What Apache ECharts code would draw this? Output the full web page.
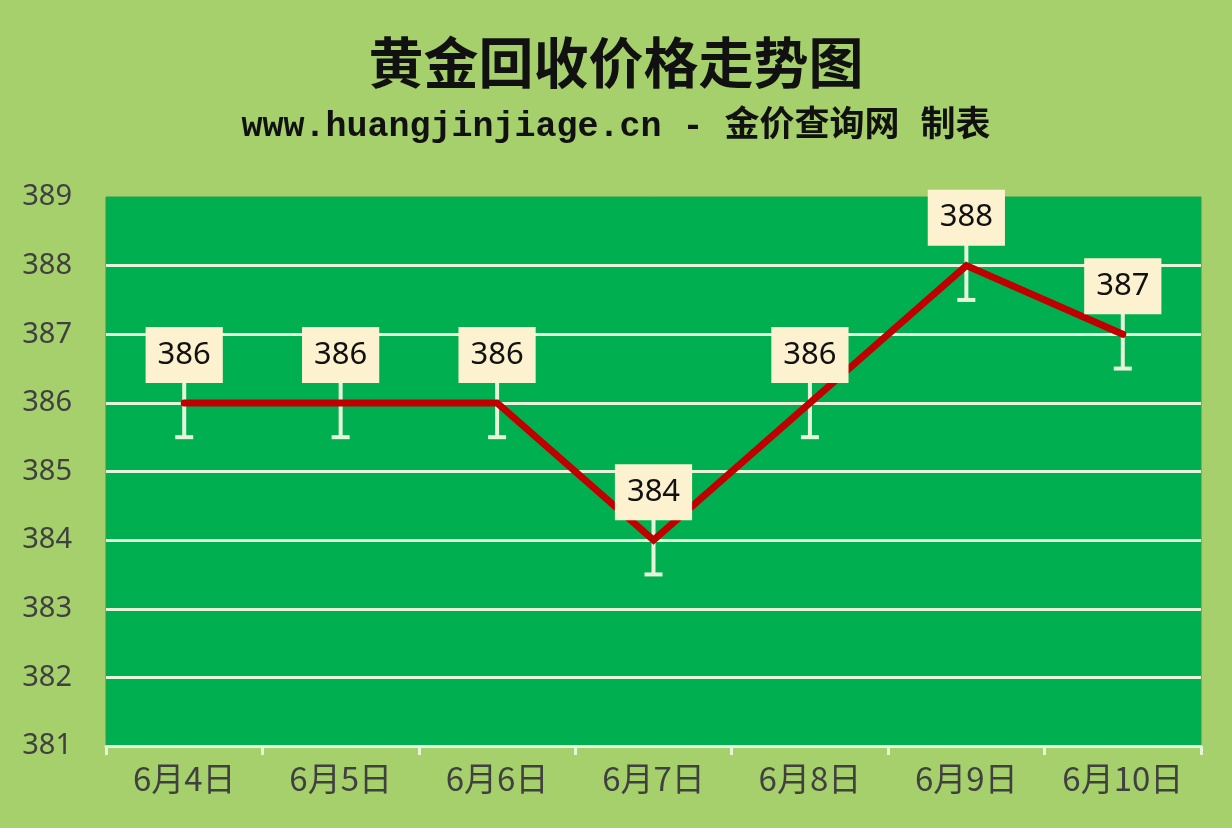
<!DOCTYPE html>
<html>
<head>
<meta charset="utf-8">
<title>黄金回收价格走势图</title>
<script src="https://cdn.jsdelivr.net/npm/echarts@6/dist/echarts.min.js"></script>
<style>
  html, body { margin: 0; padding: 0; background: #A6D06B; }
  #chart { width: 1232px; height: 828px; }
</style>
</head>
<body>
<div id="chart"></div>
<script>
// 日期与价格（元/克）
const dates = ['6月4日', '6月5日', '6月6日', '6月7日', '6月8日', '6月9日', '6月10日'];
const prices = [386, 386, 386, 384, 386, 388, 387];
const errAmount = 0.5;   // 误差线 ±
const yMin = 381;
const yMax = 389;

const chart = echarts.init(document.getElementById('chart'));

const option = {
  backgroundColor: '#A6D06B',
  title: [
    {
      text: '黄金回收价格走势图',
      left: 'center',
      top: 30,
      textStyle: {
        fontFamily: 'Noto Sans CJK SC',
        fontSize: 55,
        fontWeight: 'bold',
        color: '#111'
      }
    },
    {
      text: 'www.huangjinjiage.cn - 金价查询网 制表',
      left: 'center',
      top: 105,
      textStyle: {
        fontFamily: 'Liberation Mono, Noto Sans CJK SC',
        fontSize: 35,
        fontWeight: 'bold',
        color: '#111'
      }
    }
  ],
  grid: {
    left: 106,
    right: 31,
    top: 197,
    bottom: 82,
    show: true,
    backgroundColor: '#00B050',
    borderColor: '#2A9E48',
    borderWidth: 1
  },
  xAxis: {
    type: 'category',
    data: dates,
    boundaryGap: true,
    axisLine: { lineStyle: { color: '#E6F4DA', width: 3 } },
    axisTick: { show: true, length: 9, lineStyle: { color: '#E6F4DA', width: 3 } },
    axisLabel: {
      interval: 0,
      fontFamily: 'Noto Sans CJK SC',
      fontSize: 33,
      color: '#404040',
      margin: 16
    }
  },
  yAxis: {
    type: 'value',
    min: yMin,
    max: yMax,
    interval: 1,
    axisLine: { show: false },
    axisTick: { show: false },
    axisLabel: {
      fontFamily: 'Noto Sans, Noto Sans CJK SC',
      fontSize: 29,
      color: '#404040',
      margin: 34
    },
    splitLine: {
      show: true,
      showMinLine: false,
      showMaxLine: false,
      lineStyle: { color: '#E6F4DA', width: 3 }
    }
  },
  series: [
    {
      name: '误差线',
      type: 'custom',
      z: 2,
      silent: true,
      data: prices.map((v, i) => [i, v - errAmount, v + errAmount]),
      renderItem: function (params, api) {
        const x = api.value(0);
        const low = api.coord([x, api.value(1)]);
        const high = api.coord([x, api.value(2)]);
        const half = 9;
        const style = { stroke: '#E6F4DA', lineWidth: 4 };
        return {
          type: 'group',
          children: [
            { type: 'line', shape: { x1: low[0], y1: low[1], x2: high[0], y2: high[1] }, style: style },
            { type: 'line', shape: { x1: low[0] - half, y1: low[1], x2: low[0] + half, y2: low[1] }, style: style },
            { type: 'line', shape: { x1: high[0] - half, y1: high[1], x2: high[0] + half, y2: high[1] }, style: style }
          ]
        };
      }
    },
    {
      name: '价格',
      type: 'line',
      z: 3,
      data: prices,
      symbol: 'circle',
      symbolSize: 6,
      showSymbol: true,
      itemStyle: { color: '#C00000' },
      lineStyle: { color: '#C00000', width: 7, cap: 'round', join: 'miter' },
      label: {
        show: true,
        position: 'top',
        distance: 17,
        fontFamily: 'Noto Sans',
        fontSize: 31,
        lineHeight: 34,
        color: '#111',
        backgroundColor: '#FDF2D0',
        padding: [11, 12]
      },
      labelLayout: { moveOverlap: false },
      emphasis: { disabled: true }
    }
  ]
};

chart.setOption(option);
</script>
</body>
</html>
